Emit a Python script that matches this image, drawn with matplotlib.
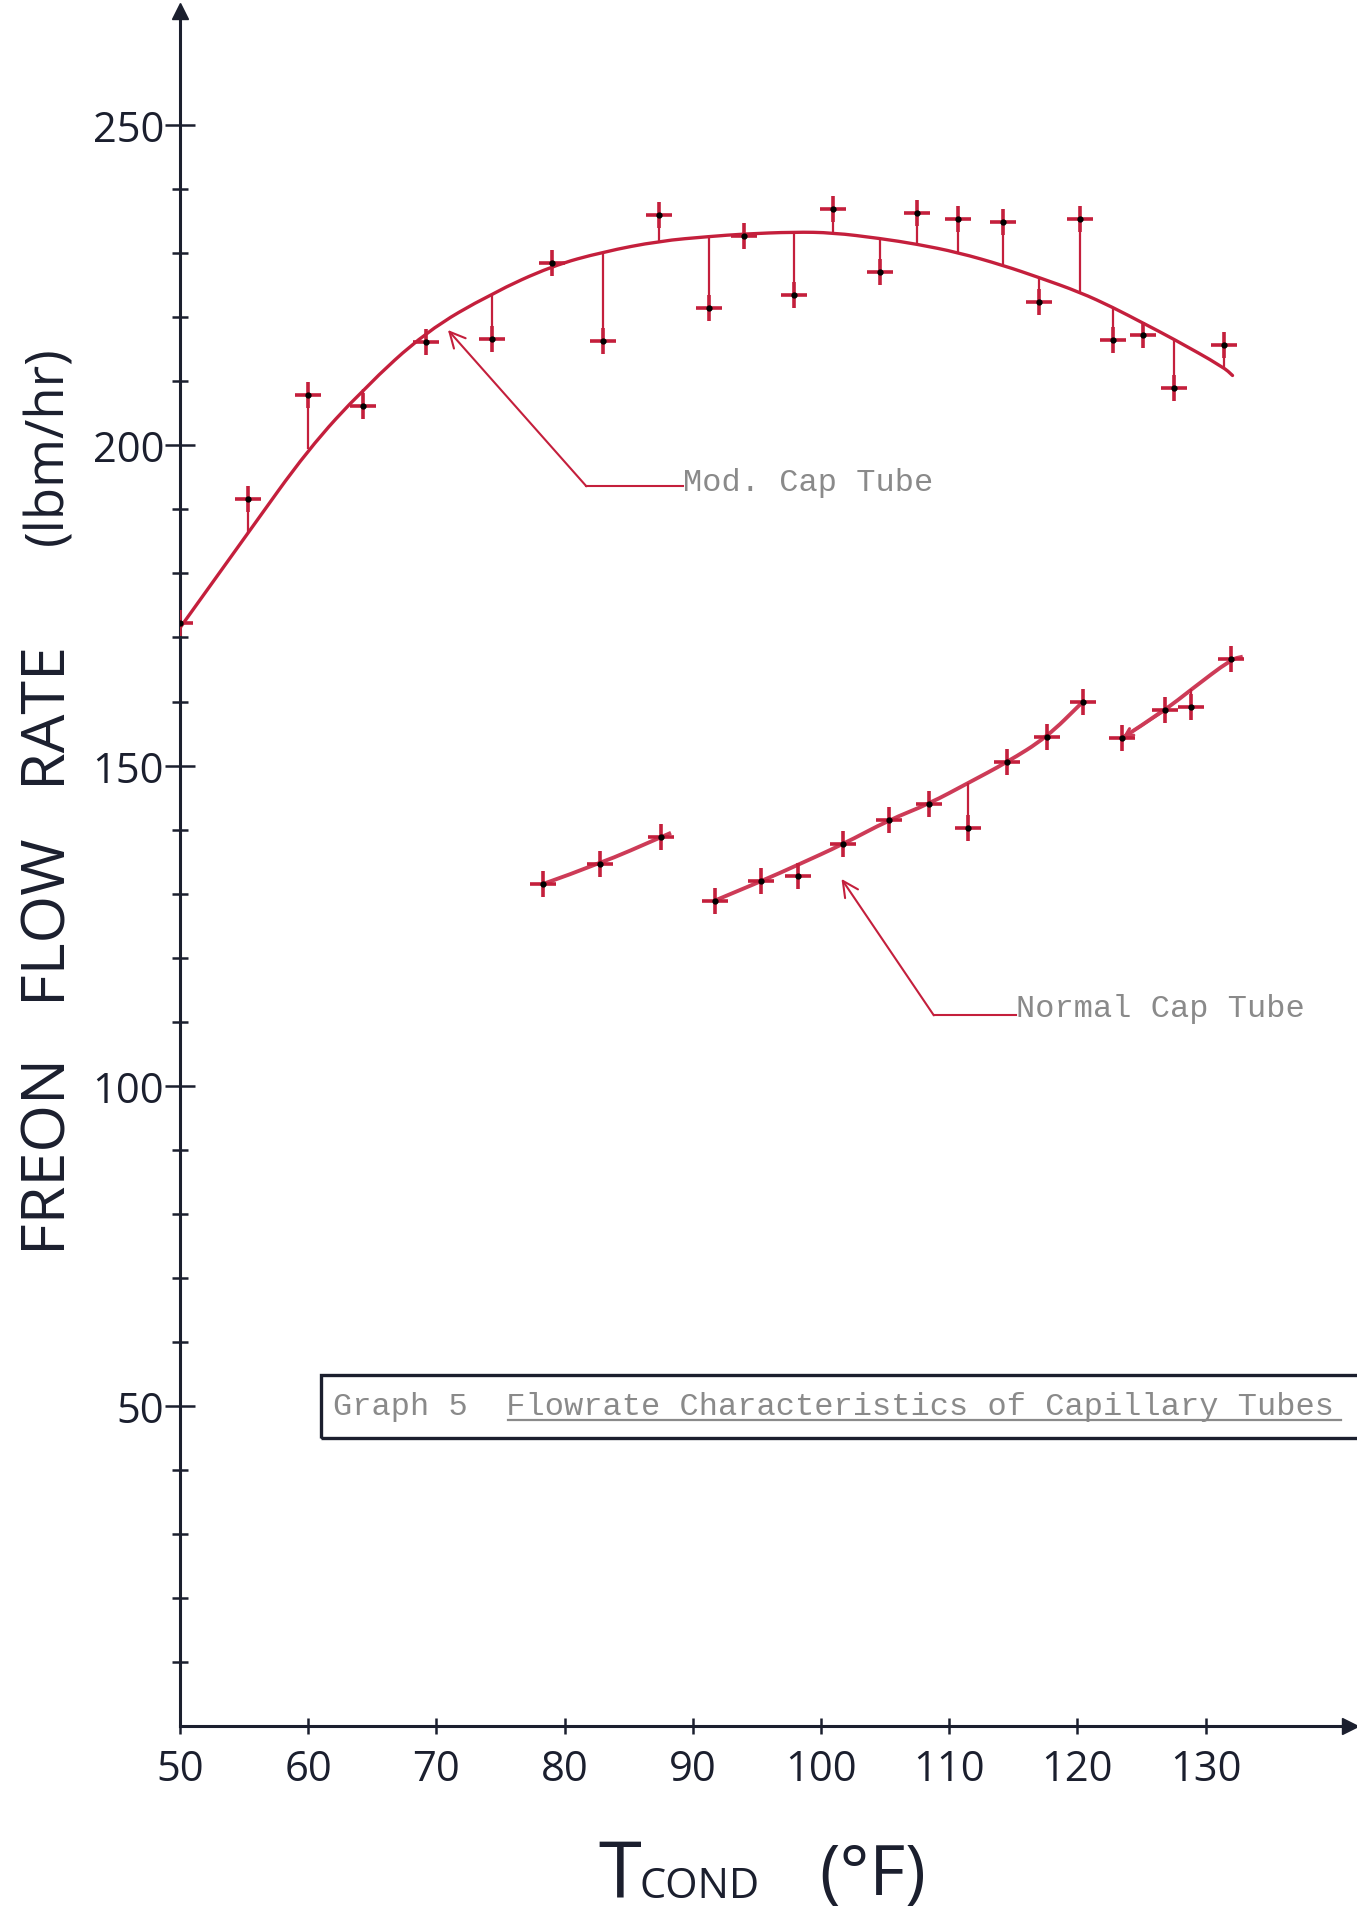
import matplotlib
matplotlib.use("Agg")
import matplotlib.pyplot as plt
from matplotlib.patches import Rectangle, PathPatch
from matplotlib.path import Path
from matplotlib.lines import Line2D

# ---------------- data ----------------
# Modified capillary tube: measured points and value of the drawn curve at each point
mod_x = [50.0, 55.3, 60.0, 64.3, 69.2, 74.3, 79.0, 83.0, 87.4, 91.3, 94.0, 97.9,
         100.9, 104.6, 107.5, 110.7, 114.2, 117.0, 120.2, 122.8, 125.1, 127.5, 131.4]
mod_y = [172.3, 191.6, 207.9, 206.2, 216.2, 216.6, 228.4, 216.3, 236.0, 221.5, 232.7, 223.4,
         236.9, 227.1, 236.3, 235.3, 234.8, 222.4, 235.3, 216.5, 217.2, 208.9, 215.7]
mod_fit = [171.5, 186.3, 199.4, 208.8, 217.8, 223.7, 228.0, 230.2, 231.9, 232.6, 233.0, 233.3,
           233.2, 232.3, 231.4, 230.1, 228.1, 226.2, 223.9, 221.5, 219.1, 216.6, 212.2]
mod_curve_end_x = [132.1]
mod_curve_end_y = [210.9]

# Normal capillary tube: three drawn segments
norm_a_x = [78.3, 82.8, 87.5]
norm_a_y = [131.5, 134.7, 138.8]
norm_a_fit = [131.5, 134.7, 138.8]
norm_a_end_x = [88.3]
norm_a_end_y = [139.5]

norm_b_x = [91.7, 95.3, 98.2, 101.7, 105.3, 108.4, 111.5, 114.5, 117.6, 120.4]
norm_b_y = [128.9, 131.9, 132.7, 137.7, 141.5, 144.0, 140.3, 150.5, 154.4, 159.9]
norm_b_fit = [128.9, 131.9, 134.5, 137.7, 141.5, 144.0, 147.3, 150.5, 154.4, 159.9]

norm_c_x = [123.5, 126.8, 128.9, 132.0]
norm_c_y = [154.3, 158.6, 159.2, 166.6]
norm_c_fit = [154.3, 158.6, 161.9, 166.6]
norm_c_end_x = [132.9]
norm_c_end_y = [167.0]

x_ticks = [50, 60, 70, 80, 90, 100, 110, 120, 130]
x_tick_labels = ["50", "60", "70", "80", "90", "100", "110", "120", "130"]
y_ticks = [50, 100, 150, 200, 250]
y_tick_labels = ["50", "100", "150", "200", "250"]
y_minor_ticks = [10, 20, 30, 40, 60, 70, 80, 90, 110, 120, 130, 140,
                 160, 170, 180, 190, 210, 220, 230, 240]

title_text = "Graph 5  Flowrate Characteristics of Capillary Tubes"
mod_label = "Mod. Cap Tube"
norm_label = "Normal Cap Tube"

# ---------------- style ----------------
RED = "#c41f3c"
RED_LIGHT = "#cd3b57"
INK = "#1b1f2e"
TYPE_GRAY = "#8a8a8a"
HAND = "Open Sans"
TYPE = "Liberation Mono"

W, H = 1357, 1915
fig = plt.figure(figsize=(W / 100, H / 100), dpi=100)
fig.patch.set_facecolor("white")

ax = fig.add_axes([180 / W, (H - 1727.3) / H, 1170 / W, 1715.3 / H])
ax.set_xlim(50, 50 + 1170 / 12.82)
ax.set_ylim(0, 1715.3 / 6.405)
ax.set_facecolor("none")

for s in ("top", "right"):
    ax.spines[s].set_visible(False)
for s in ("left", "bottom"):
    ax.spines[s].set_color(INK)
    ax.spines[s].set_linewidth(2.2)

# axis arrows
ax.plot(1, 0, ">", transform=ax.get_yaxis_transform(), clip_on=False,
        ms=11, color=INK)
ax.plot(50, 1, "^", transform=ax.get_xaxis_transform(), clip_on=False,
        ms=11, color=INK)

ax.set_xticks(x_ticks)
ax.set_xticklabels(x_tick_labels, fontfamily=HAND)
ax.set_yticks(y_ticks)
ax.set_yticklabels(y_tick_labels, fontfamily=HAND)
ax.set_yticks(y_minor_ticks, minor=True)
ax.tick_params(axis="x", direction="inout", length=11, width=1.8, pad=10,
               labelsize=30, colors=INK)
ax.tick_params(axis="y", which="major", direction="inout", length=21, width=1.8,
               pad=1, labelsize=30, colors=INK)
ax.tick_params(axis="y", which="minor", direction="inout", length=11, width=1.8,
               colors=INK)


def smooth_path(xs, ys):
    """Quadratic Bezier path through the midpoints of the read curve points."""
    pts = list(zip(xs, ys))
    verts = [pts[0]]
    codes = [Path.MOVETO]
    for i in range(1, len(pts) - 1):
        mid = ((pts[i][0] + pts[i + 1][0]) / 2, (pts[i][1] + pts[i + 1][1]) / 2)
        verts += [pts[i], mid]
        codes += [Path.CURVE3, Path.CURVE3]
    verts.append(pts[-1])
    codes.append(Path.LINETO)
    return Path(verts, codes)


# ---------------- modified cap tube ----------------
ax.add_patch(PathPatch(smooth_path(mod_x + mod_curve_end_x, mod_fit + mod_curve_end_y),
                       fill=False, ec=RED, lw=2.4, capstyle="round", zorder=3))
ax.vlines(mod_x, mod_y, mod_fit, color=RED, lw=1.6, zorder=3)
ax.plot(mod_x, mod_y, ls="none", marker="+", ms=19, mew=2.6, color=RED, zorder=4)
ax.plot(mod_x, mod_y, ls="none", marker="o", ms=3.5, color="black", zorder=5)

# ---------------- normal cap tube ----------------
ax.add_patch(PathPatch(smooth_path(norm_a_x + norm_a_end_x, norm_a_fit + norm_a_end_y),
                       fill=False, ec=RED_LIGHT, lw=2.8, zorder=3))
ax.add_patch(PathPatch(smooth_path(norm_b_x, norm_b_fit),
                       fill=False, ec=RED_LIGHT, lw=2.8, zorder=3))
ax.add_patch(PathPatch(smooth_path(norm_c_x + norm_c_end_x, norm_c_fit + norm_c_end_y),
                       fill=False, ec=RED_LIGHT, lw=2.8, zorder=3))
ax.annotate("", xy=(norm_c_x[0], norm_c_fit[0]), xytext=(norm_c_x[1], norm_c_fit[1]),
            arrowprops=dict(arrowstyle="->", color=RED_LIGHT, lw=2.2,
                            mutation_scale=14, shrinkA=0, shrinkB=0), zorder=3)
for xs, ys, fs in ((norm_a_x, norm_a_y, norm_a_fit),
                   (norm_b_x, norm_b_y, norm_b_fit),
                   (norm_c_x, norm_c_y, norm_c_fit)):
    ax.vlines(xs, ys, fs, color=RED, lw=1.6, zorder=3)
    ax.plot(xs, ys, ls="none", marker="+", ms=19, mew=2.6, color=RED, zorder=4)
    ax.plot(xs, ys, ls="none", marker="o", ms=3.5, color="black", zorder=5)

# ---------------- annotations ----------------
ax.text(89.2, 194.3, mod_label, fontfamily=TYPE, fontsize=23, color=TYPE_GRAY,
        ha="left", va="center")
ax.plot([89.2, 81.7], [193.6, 193.6], color=RED, lw=1.5)
ax.annotate("", xy=(70.9, 218.0), xytext=(81.7, 193.6),
            arrowprops=dict(arrowstyle="->", color=RED, lw=1.5, mutation_scale=28,
                            shrinkA=0, shrinkB=0))

ax.text(115.2, 112.1, norm_label, fontfamily=TYPE, fontsize=23, color=TYPE_GRAY,
        ha="left", va="center")
ax.plot([115.2, 108.8], [111.0, 111.0], color=RED, lw=1.5)
ax.annotate("", xy=(101.6, 132.3), xytext=(108.8, 111.0),
            arrowprops=dict(arrowstyle="->", color=RED, lw=1.5, mutation_scale=28,
                            shrinkA=0, shrinkB=0))

# ---------------- title box ----------------
fig.patches.append(Rectangle((321 / W, 1 - 1439 / H), 1.2, (1439 - 1376) / H,
                             transform=fig.transFigure, fill=False, ec=INK, lw=2.4))
fig.text(333 / W, 1 - 1407 / H, title_text, fontfamily=TYPE, fontsize=23,
         color=TYPE_GRAY, ha="left", va="center")
fig.lines.append(Line2D([508 / W, 1341 / W], [1 - 1421 / H, 1 - 1421 / H],
                        transform=fig.transFigure, color=TYPE_GRAY, lw=1.6))

# ---------------- axis titles ----------------
fig.text(43 / W, 1 - 1150 / H, "FREON", rotation=90, fontfamily=HAND, fontsize=44,
         color=INK, ha="center", va="center")
fig.text(43 / W, 1 - 916 / H, "FLOW", rotation=90, fontfamily=HAND, fontsize=44,
         color=INK, ha="center", va="center")
fig.text(43 / W, 1 - 711.5 / H, "RATE", rotation=90, fontfamily=HAND, fontsize=44,
         color=INK, ha="center", va="center")
fig.text(49 / W, 1 - 445.5 / H, "(lbm/hr)", rotation=90, fontfamily=HAND, fontsize=38,
         color=INK, ha="center", va="center")

fig.text(598 / W, 1 - 1898 / H, "T", fontfamily=HAND, fontsize=56, color=INK,
         ha="left", va="baseline")
fig.text(640 / W, 1 - 1898 / H, "COND", fontfamily=HAND, fontsize=30, color=INK,
         ha="left", va="baseline")
fig.text(873 / W, 1 - 1877 / H, "(°F)", fontfamily=HAND, fontsize=50, color=INK,
         ha="center", va="center")

fig.savefig("out.png", dpi=100, facecolor="white")
